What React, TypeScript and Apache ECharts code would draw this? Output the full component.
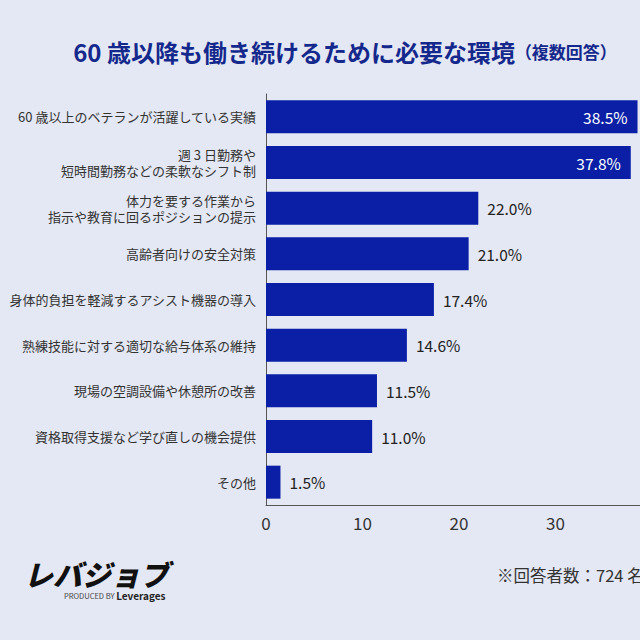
import React, { useEffect, useRef } from "react";
import * as echarts from "echarts";

const categories = [
  "60 歳以上のベテランが活躍している実績",
  "週 3 日勤務や\n短時間勤務などの柔軟なシフト制",
  "体力を要する作業から\n指示や教育に回るポジションの提示",
  "高齢者向けの安全対策",
  "身体的負担を軽減するアシスト機器の導入",
  "熟練技能に対する適切な給与体系の維持",
  "現場の空調設備や休憩所の改善",
  "資格取得支援など学び直しの機会提供",
  "その他",
];
const values = [38.5, 37.8, 22.0, 21.0, 17.4, 14.6, 11.5, 11.0, 1.5];
const insideCount = 2;
const titleMain = "60 歳以降も働き続けるために必要な環境";
const titleSub = "（複数回答）";
const footnote = "※回答者数：724 名";

const FONT = "'Noto Sans CJK JP', 'Noto Sans', sans-serif";

export default function App() {
  const ref = useRef<HTMLDivElement>(null);
  useEffect(() => {
    if (!ref.current) return;
    const chart = echarts.init(ref.current, null, { renderer: "svg" });
    chart.setOption({
      animation: false,
      backgroundColor: "#e4e8f4",
      textStyle: { fontFamily: FONT },
      title: {
        text: `{m|${titleMain}}{s|${titleSub}}`,
        left: 340,
        top: 34,
        textAlign: "center",
        textStyle: {
          rich: {
            m: { fontSize: 24, fontWeight: "bold", color: "#15288c", fontFamily: FONT },
            s: { fontSize: 17, fontWeight: "bold", color: "#15288c", fontFamily: FONT },
          },
        },
      },
      grid: {
        left: 266,
        top: 94,
        height: 411,
        width: 386,
        containLabel: false,
        outerBoundsMode: "none",
      },
      xAxis: {
        type: "value",
        min: 0,
        max: 40,
        interval: 10,
        splitLine: { show: false },
        axisLine: { show: true, lineStyle: { color: "#555", width: 1 } },
        axisTick: { show: false },
        axisLabel: { fontSize: 17, color: "#333", margin: 9, fontFamily: FONT },
      },
      yAxis: {
        type: "category",
        inverse: true,
        data: categories,
        axisLine: { show: true, lineStyle: { color: "#555", width: 1 } },
        axisTick: { show: false },
        axisLabel: { fontSize: 13, lineHeight: 16, color: "#333", margin: 10, fontFamily: FONT },
      },
      series: [
        {
          type: "bar",
          barWidth: 33,
          itemStyle: { color: "#0a1fa6" },
          data: values.map((v, i) => ({
            value: v,
            label:
              i < insideCount
                ? { position: "insideRight", color: "#fff", distance: 10 }
                : { position: "right", color: "#222", distance: 9 },
          })),
          label: {
            show: true,
            fontSize: 15.5,
            fontFamily: FONT,
            formatter: (p: any) => `${Number(p.value).toFixed(1)}%`,
          },
        },
      ],
      graphic: [
        {
          type: "text",
          left: 24,
          top: 558,
          style: {
            text: "レバジョブ",
            fontSize: 29,
            fontWeight: 900,
            fontStyle: "italic",
            fill: "#111",
            fontFamily: FONT,
          },
        },
        {
          type: "text",
          left: 64,
          top: 590,
          style: {
            text: "{a|PRODUCED BY }{b|Leverages}",
            rich: {
              a: { fontSize: 7.5, fill: "#444", fontFamily: FONT },
              b: { fontSize: 10, fontWeight: "bold", fill: "#222", fontFamily: FONT },
            },
          },
        },
        {
          type: "text",
          left: 497,
          top: 567,
          style: { text: footnote, fontSize: 16.5, fill: "#333", fontFamily: FONT },
        },
      ],
    });
    return () => chart.dispose();
  }, []);
  return (
    <div
      ref={ref}
      style={{ width: 640, height: 640, position: "fixed", left: 0, top: 0 }}
    />
  );
}
